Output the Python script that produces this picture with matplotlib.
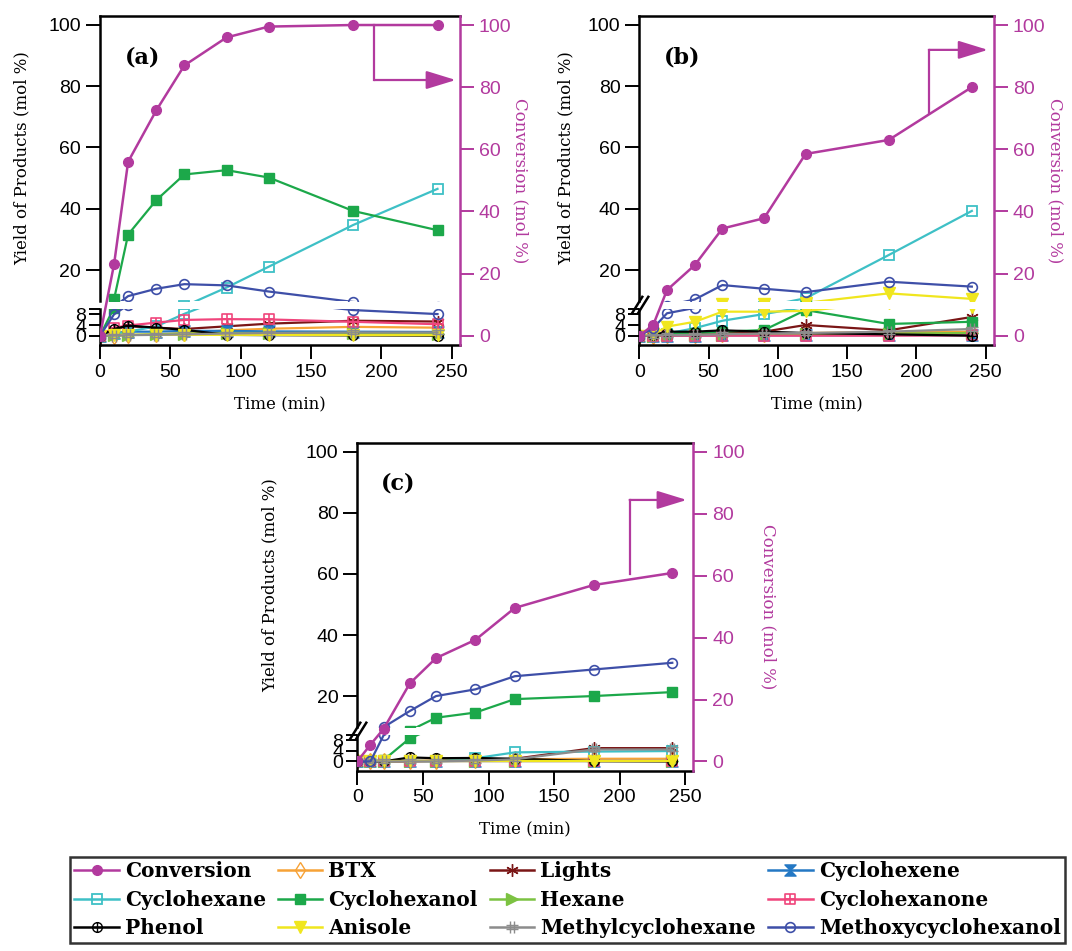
import matplotlib
matplotlib.use("Agg")
import matplotlib.pyplot as plt
from matplotlib.path import Path
from matplotlib.lines import Line2D

W, H = 1072, 951

time_min = [0, 10, 20, 40, 60, 90, 120, 180, 240]

# panel (a)
a_conversion = [0, 23, 56, 72.5, 87, 96, 99.5, 100, 100]
a_btx = [0, 0, 0.2, 0.5, 1, 2, 2.6, 3.3, 3]
a_lights = [0, 2.5, 3.5, 3, 2.5, 3.5, 4.5, 5.6, 5.3]
a_cyclohexene = [0, 1, 1.5, 1.5, 1.8, 1.8, 1.6, 1.5, 1.4]
a_cyclohexane = [0, 0.5, 1.5, 3.5, 8.2, 14.3, 21.1, 34.7, 46.5]
a_cyclohexanol = [0, 10.5, 31.6, 42.8, 51.2, 52.6, 50.2, 39.3, 33]
a_hexane = [0, 0.2, 0.3, 0.5, 0.8, 1, 1, 1, 0.8]
a_cyclohexanone = [0, 3, 3.8, 4.9, 5.9, 6.2, 6.1, 5.2, 4.3]
a_phenol = [0, 2.5, 3.8, 3, 2.2, 0.3, 0.2, 0.1, 0]
a_anisole = [0, 0.3, 0.3, 0.3, 0.3, 0.3, 0.3, 0.2, 0.2]
a_methylcyclohexane = [0, 0, 0.2, 0.3, 0.5, 0.8, 1, 1.2, 1.2]
a_methoxycyclohexanol = [0, 8, 11.5, 13.9, 15.4, 15, 13, 9.6, 8.1]

# panel (b)
b_conversion = [0, 3.4, 14.7, 22.7, 34.5, 37.8, 58.5, 63, 80]
b_btx = [0, 0, 0.2, 0.3, 0.5, 0.8, 1, 1.3, 1.5]
b_lights = [0, 0.3, 0.8, 1, 1.2, 1.5, 4, 2, 7]
b_cyclohexene = [0, 0, 0, 0, 0.1, 0.1, 0.1, 0.2, 0.2]
b_cyclohexane = [0, 0.2, 0.8, 2.8, 5.6, 8.1, 10.8, 24.9, 39.3]
b_cyclohexanol = [0, 0.3, 0.8, 1, 1.5, 2.1, 9.6, 4.4, 5.2]
b_hexane = [0, 0, 0.2, 0.3, 0.4, 0.5, 0.6, 0.8, 1]
b_cyclohexanone = [0, 0, 0, 0, 0, 0, 0, 0, 0.1]
b_phenol = [0, 0.2, 1.5, 1.5, 2, 1.5, 1, 0.5, 0]
b_anisole = [0, 0.5, 3.4, 5.2, 9, 9, 9.3, 12.4, 10.6]
b_methylcyclohexane = [0, 0, 0.2, 0.3, 0.5, 0.8, 1, 1.5, 2.5]
b_methoxycyclohexanol = [0, 2.8, 8.4, 10.4, 15.1, 13.9, 12.8, 16.2, 14.6]

# panel (c)
c_conversion = [0, 5.4, 10.5, 25.2, 33.4, 39.3, 49.6, 57, 60.9]
c_btx = [0, 0, 0, 0.2, 0.3, 0.5, 0.8, 1, 1]
c_lights = [0, 0, 0, 0, 0.2, 0.5, 1, 5, 5]
c_cyclohexene = [0, 0, 0, 0, 0, 0, 0, 0, 0]
c_cyclohexane = [0, 0, 0, 0.3, 0, 1.2, 3.4, 3.7, 3.9]
c_cyclohexanol = [0, 0, 0.5, 8.7, 12.9, 14.6, 19, 20, 21.3]
c_hexane = [0, 0, 0, 0, 0, 0, 0, 0, 0]
c_cyclohexanone = [0, 0, 0, 0, 0, 0, 0, 0, 0]
c_phenol = [0, 0, 0, 1.5, 1.2, 1.3, 1, 0.1, 0]
c_anisole = [0, 0, 0, 0, 0, 0, 0, 0, 0]
c_methylcyclohexane = [0, 0, 0, 0, 0, 0.3, 0.8, 4.5, 4.5]
c_methoxycyclohexanol = [0, 0, 9.8, 15.1, 20, 22.2, 26.5, 28.7, 30.9]

product_names = ["BTX", "Lights", "Cyclohexene", "Cyclohexane", "Cyclohexanol",
                 "Hexane", "Cyclohexanone", "Phenol", "Anisole",
                 "Methylcyclohexane", "Methoxycyclohexanol"]

MAG = "#B23A9E"
SERIF = "DejaVu Serif"
plt.rcParams["font.family"] = ["Liberation Sans", "DejaVu Sans"]

M, L, C = Path.MOVETO, Path.LINETO, Path.CLOSEPOLY
square_plus = Path([(-1, -1), (1, -1), (1, 1), (-1, 1), (-1, -1), (0, -1), (0, 1), (-1, 0), (1, 0)],
                   [M, L, L, L, C, M, L, M, L])
circle_plus = Path.make_compound_path(Path.unit_circle(),
                                      Path([(0, -1), (0, 1), (-1, 0), (1, 0)], [M, L, M, L]))
hourglass = Path([(-1, 1), (1, 1), (-1, -1), (1, -1), (-1, 1)], [M, L, L, L, C])
hash_mark = Path([(-0.4, -1), (-0.4, 1), (0.4, -1), (0.4, 1), (-1, -0.4), (1, -0.4), (-1, 0.4), (1, 0.4)],
                 [M, L, M, L, M, L, M, L])

styles = {
    "Conversion": dict(color=MAG, marker="o", ms=7, mfc=MAG),
    "BTX": dict(color="#F7A236", marker="d", ms=8, mfc="none"),
    "Lights": dict(color="#7A1616", marker=(6, 2, 0), ms=9, mew=1.0),
    "Cyclohexene": dict(color="#2478C4", marker=hourglass, ms=8, mfc="#2478C4"),
    "Cyclohexane": dict(color="#3EC0C6", marker="s", ms=7, mfc="none", mew=1.3),
    "Cyclohexanol": dict(color="#1CA84A", marker="s", ms=7.5, mfc="#1CA84A"),
    "Hexane": dict(color="#7CC242", marker=">", ms=8, mfc="#7CC242"),
    "Cyclohexanone": dict(color="#F0457C", marker=square_plus, ms=7, mfc="none", mew=1.2),
    "Phenol": dict(color="black", marker=circle_plus, ms=7, mfc="none", mew=1.0),
    "Anisole": dict(color="#F0E61E", marker="v", ms=8, mfc="#F0E61E"),
    "Methylcyclohexane": dict(color="#8C8C8C", marker=hash_mark, ms=8, mew=1.0),
    "Methoxycyclohexanol": dict(color="#3E4FA8", marker="o", ms=7, mfc="none", mew=1.2),
}


def px_axes(fig, left, top, right, bottom):
    return fig.add_axes([left / W, 1 - bottom / H, (right - left) / W, (bottom - top) / H])


def draw_panel(fig, box, products, conversion, tag, arrow, show_break, right_label_x, ylab_pad):
    left, right, top, bottom = box
    hgt = bottom - top
    up_bottom = top + 0.8655 * hgt
    lo_top = top + 0.8907 * hgt

    ax_up = px_axes(fig, left, top, right, up_bottom)
    ax_lo = px_axes(fig, left, lo_top, right, bottom)
    ax_r = px_axes(fig, left, top, right, bottom)
    ax_r.patch.set_visible(False)

    for name in product_names:
        for ax in (ax_up, ax_lo):
            ax.plot(time_min, products[name], lw=1.6, **styles[name])
    ax_r.plot(time_min, conversion, lw=1.8, **styles["Conversion"])

    for ax in (ax_up, ax_lo, ax_r):
        ax.set_xlim(0, 256)
    ax_up.set_ylim(10, 103)
    ax_lo.set_ylim(-3.5, 10)
    ax_r.set_ylim(-3, 103)

    # upper part
    ax_up.spines["right"].set_visible(False)
    ax_up.spines["bottom"].set_visible(False)
    ax_up.spines["top"].set_linewidth(1.8)
    ax_up.spines["left"].set_linewidth(1.8)
    ax_up.set_yticks([20, 40, 60, 80, 100])
    ax_up.set_xticks([])
    ax_up.tick_params(axis="y", direction="out", length=10, width=1.4, labelsize=14)
    ax_up.set_ylabel("Yield of Products (mol %)", family=SERIF, fontsize=12, labelpad=ylab_pad)

    # lower part
    ax_lo.spines["right"].set_visible(False)
    ax_lo.spines["top"].set_visible(False)
    ax_lo.spines["bottom"].set_linewidth(1.8)
    ax_lo.spines["left"].set_linewidth(1.8)
    ax_lo.set_yticks([0, 4, 8, 10])
    ax_lo.set_yticklabels(["0", "4", "8", ""])
    ax_lo.set_xticks([0, 50, 100, 150, 200, 250])
    ax_lo.tick_params(axis="y", direction="out", length=8, width=1.4, labelsize=14, pad=2)
    ax_lo.tick_params(axis="x", direction="out", length=10, width=1.4, labelsize=14)
    ax_lo.set_xlabel("Time (min)", family=SERIF, fontsize=12, labelpad=11)

    # right conversion axis
    for s in ["left", "top", "bottom"]:
        ax_r.spines[s].set_visible(False)
    ax_r.spines["right"].set_color(MAG)
    ax_r.spines["right"].set_linewidth(1.8)
    ax_r.set_xticks([])
    ax_r.yaxis.tick_right()
    ax_r.set_yticks([0, 20, 40, 60, 80, 100])
    ax_r.tick_params(axis="y", direction="out", length=10, width=1.4, labelsize=14,
                     colors=MAG, labelcolor=MAG)
    fig.text(right_label_x / W, 1 - (top + hgt / 2) / H, "Conversion (mol %)", rotation=-90,
             color=MAG, family=SERIF, fontsize=12, ha="center", va="center")

    # arrow pointing to the right axis
    x0, y_start, y_turn, x_tip = arrow
    ax_r.plot([x0, x0], [y_start, y_turn], color=MAG, lw=1.6, marker="none")
    ax_r.annotate("", xy=(x_tip, y_turn), xytext=(x0, y_turn),
                  arrowprops=dict(arrowstyle="-|>,head_length=1.3,head_width=0.4",
                                  color=MAG, lw=1.6, shrinkA=0, shrinkB=0, mutation_scale=14))

    ax_up.text(0.07, 0.855, tag, transform=ax_up.transAxes, family=SERIF,
               fontsize=16, fontweight="bold", ha="left", va="center")

    if show_break:
        gap = (up_bottom + lo_top) / 2
        for dx in (-3, 3):
            fig.add_artist(Line2D([(left + dx - 4) / W, (left + dx + 6) / W],
                                  [1 - (gap + 8) / H, 1 - (gap - 8) / H],
                                  color="black", lw=1.8))


fig = plt.figure(figsize=(W / 100, H / 100), dpi=100)

panels = [
    ((100, 460, 15.7, 345), "a", "(a)", (195, 100, 82.3, 253), False, 520, 13),
    ((639.3, 994, 15.7, 345), "b", "(b)", (209, 71.7, 92, 251.6), True, 1055, 10),
    ((357.3, 693.3, 442.7, 770.7), "c", "(c)", (207.5, 60.6, 84.5, 251), True, 768, 20),
]

for box, key, tag, arrow, show_break, rlx, ypad in panels:
    g = globals()
    products = {}
    for name in product_names:
        products[name] = g[key + "_" + name.lower()]
    conversion = g[key + "_conversion"]
    draw_panel(fig, box, products, conversion, tag, arrow, show_break, rlx, ypad)

# legend, row by row like the original
legend_rows = [
    ["Conversion", "BTX", "Lights", "Cyclohexene"],
    ["Cyclohexane", "Cyclohexanol", "Hexane", "Cyclohexanone"],
    ["Phenol", "Anisole", "Methylcyclohexane", "Methoxycyclohexanol"],
]
handles = []
labels = []
for col in range(4):
    for row in range(3):
        name = legend_rows[row][col]
        handles.append(Line2D([], [], lw=1.8, **styles[name]))
        labels.append(name)

leg = fig.legend(handles, labels, ncol=4, loc="upper left", mode="expand",
                 bbox_to_anchor=(70 / W, 1 - 949 / H, 995 / W, 92 / H),
                 prop=dict(family=SERIF, weight="bold", size=14.5),
                 frameon=True, fancybox=False, handlelength=2.2, handletextpad=0.3,
                 columnspacing=0.7, labelspacing=0.42, borderpad=0.22, borderaxespad=0)
leg.get_frame().set_edgecolor("black")
leg.get_frame().set_linewidth(1.8)

fig.savefig("out.png", dpi=100)
